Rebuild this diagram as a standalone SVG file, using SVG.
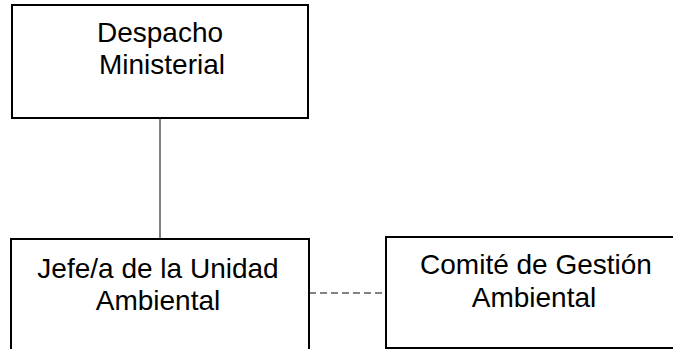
<svg xmlns="http://www.w3.org/2000/svg" width="673" height="349" viewBox="0 0 673 349">
<style>
.box{fill:#fff;stroke:#000;stroke-width:2}
.t{font-family:"Liberation Sans",Arial,sans-serif;font-size:28px;fill:#000;text-anchor:middle}
.c{stroke:#595959;stroke-width:1.5;fill:none}
</style>
<rect width="673" height="349" fill="#fff"/>
<g id="connectors">
<line class="c" x1="160" y1="118" x2="160" y2="239"/>
<line class="c" x1="309" y1="293" x2="386" y2="293" stroke-dasharray="7,4"/>
</g>
<g id="despacho">
<rect class="box" x="12" y="5" width="296" height="113"/>
<text class="t" x="160" y="42">Despacho</text>
<text class="t" x="162" y="74">Ministerial</text>
</g>
<g id="jefe">
<rect class="box" x="11" y="239" width="298" height="130"/>
<text class="t" x="158" y="278">Jefe/a de la Unidad</text>
<text class="t" x="158" y="310">Ambiental</text>
</g>
<g id="comite">
<rect class="box" x="386" y="237" width="298" height="111"/>
<text class="t" x="536" y="274">Comité de Gestión</text>
<text class="t" x="534" y="307">Ambiental</text>
</g>
</svg>
